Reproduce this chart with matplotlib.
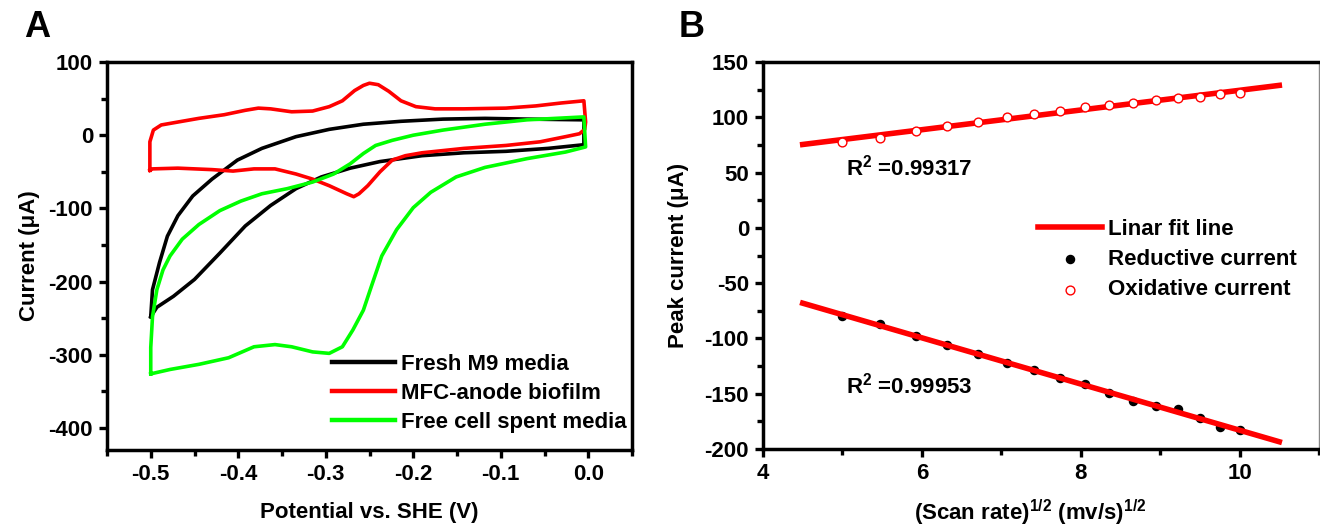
import numpy as np
import matplotlib
matplotlib.use("Agg")
import matplotlib.pyplot as plt
from matplotlib.ticker import MultipleLocator

plt.rcParams['font.family'] = ['Liberation Sans', 'DejaVu Sans']
plt.rcParams['font.weight'] = 'bold'
plt.rcParams['mathtext.fontset'] = 'custom'
plt.rcParams['mathtext.rm'] = 'Liberation Sans'
plt.rcParams['mathtext.it'] = 'Liberation Sans:italic'
plt.rcParams['mathtext.bf'] = 'Liberation Sans:bold'

# ---------------- Panel A data (cyclic voltammograms) ----------------
fresh_v = [-0.500, -0.498, -0.490, -0.481, -0.469, -0.452, -0.430, -0.401, -0.373, -0.334,
           -0.296, -0.257, -0.214, -0.166, -0.118, -0.070, -0.005, -0.005, -0.046, -0.094,
           -0.142, -0.190, -0.238, -0.272, -0.305, -0.334, -0.363, -0.392, -0.421, -0.450,
           -0.474, -0.493, -0.500]
fresh_i = [-248, -211, -174, -138, -110, -83, -60, -34, -18, -2,
           8, 15, 19, 22, 23, 22, 21, -13, -18, -22,
           -24, -28, -36, -45, -57, -73, -96, -124, -161, -197,
           -220, -235, -248]

mfc_v = [-0.501, -0.501, -0.497, -0.488, -0.469, -0.445, -0.416, -0.392, -0.377, -0.363,
         -0.339, -0.315, -0.296, -0.281, -0.267, -0.257, -0.250, -0.240, -0.228, -0.214,
         -0.197, -0.175, -0.142, -0.094, -0.060, -0.031, -0.005, -0.003, -0.004, -0.010,
         -0.026, -0.055, -0.094, -0.142, -0.190, -0.209, -0.224, -0.238, -0.252, -0.262,
         -0.268, -0.276, -0.296, -0.315, -0.334, -0.358, -0.382, -0.406, -0.430, -0.469,
         -0.498, -0.501]
mfc_i = [-48, -9, 7, 14, 18, 23, 28, 34, 37, 36,
         32, 33, 39, 47, 61, 68, 71, 69, 60, 47,
         39, 36, 36, 37, 40, 44, 47, 18, 8, 2,
         -2, -9, -14, -18, -24, -28, -34, -50, -69, -80,
         -84, -80, -69, -60, -53, -46, -46, -49, -47, -45,
         -46, -48]

spent_v = [-0.500, -0.500, -0.498, -0.493, -0.486, -0.478, -0.464, -0.445, -0.421, -0.397,
           -0.373, -0.344, -0.315, -0.291, -0.272, -0.257, -0.243, -0.224, -0.200, -0.166,
           -0.118, -0.070, -0.005, -0.003, -0.026, -0.070, -0.118, -0.151, -0.180, -0.200,
           -0.219, -0.236, -0.248, -0.257, -0.269, -0.281, -0.296, -0.315, -0.339, -0.358,
           -0.382, -0.411, -0.445, -0.478, -0.500]
spent_i = [-326, -290, -248, -211, -184, -165, -142, -122, -103, -90,
           -80, -73, -64, -53, -39, -25, -14, -7, 0, 7,
           15, 21, 25, -16, -23, -32, -44, -57, -78, -99,
           -129, -165, -207, -239, -266, -289, -298, -296, -289, -286,
           -289, -304, -313, -320, -326]

legend_a = ["Fresh M9 media", "MFC-anode biofilm", "Free cell spent media"]
colors_a = ["#000000", "#ff0000", "#00ff00"]

# ---------------- Panel B data ----------------
sqrt_scan = [5.00, 5.47, 5.92, 6.32, 6.71, 7.07, 7.41, 7.74, 8.06, 8.36, 8.66, 8.95, 9.22, 9.50, 9.75, 10.00]
oxidative = [78, 81, 88, 92, 96, 100, 103, 106, 109, 111, 113, 116, 117, 118, 121, 122]
reductive = [-80, -87, -98, -106, -114, -122, -129, -136, -141, -149, -157, -161, -164, -172, -180, -183]
r2_ox = "0.99317"
r2_red = "0.99953"
fit_range = [4.5, 10.5]

fig = plt.figure(figsize=(13.2, 5.27), dpi=100)
W, H = 1320, 527
axA = fig.add_axes([107 / W, (H - 450) / H, 525 / W, 388 / H])
axB = fig.add_axes([763 / W, (H - 449) / H, 556 / W, 387 / H])

FS = 16
for ax in (axA, axB):
    for s in ax.spines.values():
        s.set_linewidth(2.5)
    ax.tick_params(which='major', direction='out', length=6, width=2.4, labelsize=FS, pad=4)
    ax.tick_params(which='minor', direction='out', length=4, width=2.4)
    ax.tick_params(top=False, right=False)

# Panel A
axA.plot(fresh_v, fresh_i, color=colors_a[0], lw=2.6, label=legend_a[0])
axA.plot(mfc_v, mfc_i, color=colors_a[1], lw=2.6, label=legend_a[1])
axA.plot(spent_v, spent_i, color=colors_a[2], lw=2.6, label=legend_a[2])
axA.set_xlim(-0.55, 0.05)
axA.set_ylim(-430, 100)
axA.xaxis.set_minor_locator(MultipleLocator(0.05))
axA.yaxis.set_minor_locator(MultipleLocator(50))
axA.set_xticks([-0.5, -0.4, -0.3, -0.2, -0.1, 0.0])
axA.set_xticklabels(["-0.5", "-0.4", "-0.3", "-0.2", "-0.1", "0.0"], fontweight='bold')
axA.set_yticks([100, 0, -100, -200, -300, -400])
axA.set_yticklabels(["100", "0", "-100", "-200", "-300", "-400"], fontweight='bold')
axA.set_xlabel("Potential vs. SHE (V)", fontsize=FS, fontweight='bold', labelpad=12)
axA.set_ylabel("Current (\u03bcA)", fontsize=FS, fontweight='bold', labelpad=6)
legA = axA.legend(loc='lower right', bbox_to_anchor=(0.99, 0.045), frameon=False,
                  fontsize=FS, handlelength=2.85, handletextpad=0.27, labelspacing=0.35,
                  borderaxespad=0.0, borderpad=0.0)
for t in legA.get_texts():
    t.set_fontweight('bold')
for l in legA.get_lines():
    l.set_linewidth(3.2)

# Panel B
slope_o, icpt_o = np.polyfit(sqrt_scan, oxidative, 1)
slope_r, icpt_r = np.polyfit(sqrt_scan, reductive, 1)
xf = np.array(fit_range)
axB.scatter(sqrt_scan, reductive, s=34, color='black', zorder=2, label="Reductive current")
axB.plot(xf, slope_o * xf + icpt_o, color='#ff0000', lw=4.0, zorder=3, label="Linar fit line")
axB.plot(xf, slope_r * xf + icpt_r, color='#ff0000', lw=4.0, zorder=3)
axB.scatter(sqrt_scan, oxidative, s=40, facecolor='white', edgecolor='#ff0000', linewidth=1.0,
            zorder=4, label="Oxidative current")
axB.set_xlim(4, 11)
axB.set_ylim(-200, 150)
axB.xaxis.set_minor_locator(MultipleLocator(1))
axB.yaxis.set_minor_locator(MultipleLocator(25))
axB.set_xticks([4, 6, 8, 10])
axB.set_xticklabels(["4", "6", "8", "10"], fontweight='bold')
axB.set_yticks([150, 100, 50, 0, -50, -100, -150, -200])
axB.set_yticklabels(["150", "100", "50", "0", "-50", "-100", "-150", "-200"], fontweight='bold')
axB.spines['right'].set_linewidth(1.0)
axB.spines['right'].set_color('#888888')
axB.set_xlabel(r"(Scan rate)$^{\mathrm{1/2}}$ (mv/s)$^{\mathrm{1/2}}$", fontsize=FS,
               fontweight='bold', labelpad=10)
axB.xaxis.set_label_coords(0.48, -0.125)
axB.xaxis.label.set_va('top')
axB.set_ylabel("Peak current (\u03bcA)", fontsize=FS, fontweight='bold', labelpad=11)
axB.text(5.04, 47, r"R$^{\mathrm{2}}$ =" + r2_ox, fontsize=FS, fontweight='bold', va='baseline')
axB.text(5.04, -150, r"R$^{\mathrm{2}}$ =" + r2_red, fontsize=FS, fontweight='bold', va='baseline')

h, l = axB.get_legend_handles_labels()
order = [l.index("Linar fit line"), l.index("Reductive current"), l.index("Oxidative current")]
legB = axB.legend([h[i] for i in order], [l[i] for i in order], loc='upper left',
                  bbox_to_anchor=(0.495, 0.595), frameon=False, fontsize=FS,
                  handlelength=2.85, handletextpad=0.27, labelspacing=0.42, scatterpoints=1,
                  borderaxespad=0.0, borderpad=0.0)
for t in legB.get_texts():
    t.set_fontweight('bold')

fig.text(24 / W, 1 - 37 / H, "A", fontsize=26, fontweight='bold', va='baseline', ha='left')
fig.text(679 / W, 1 - 37 / H, "B", fontsize=26, fontweight='bold', va='baseline', ha='left')

fig.savefig("out.png", dpi=100)
